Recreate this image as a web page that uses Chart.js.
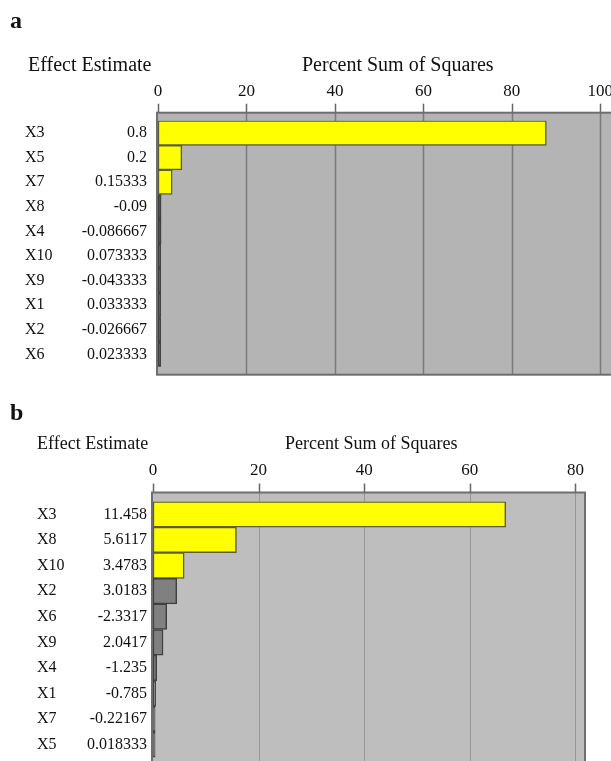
<!DOCTYPE html>
<html>
<head>
<meta charset="utf-8">
<script src="https://cdn.jsdelivr.net/npm/chart.js@4"></script>
<style>
  body { margin: 0; width: 611px; height: 761px; overflow: hidden; background: #fff; position: relative;
         font-family: "Liberation Serif", "Times New Roman", serif; color: #111; }
  canvas { position: absolute; left: 0; }
  .t { position: absolute; white-space: nowrap; line-height: 1; }
</style>
</head>
<body>
<canvas id="chartA" width="620" height="385" style="top:0"></canvas>
<canvas id="chartB" width="611" height="380" style="top:390px"></canvas>

<div class="t" style="left:10px;top:8px;font-size:24px;font-weight:bold">a</div>
<div class="t" style="left:28px;top:54px;font-size:20px">Effect Estimate</div>
<div class="t" style="left:302px;top:54px;font-size:20px">Percent Sum of Squares</div>

<div class="t" style="left:10px;top:400px;font-size:24px;font-weight:bold">b</div>
<div class="t" style="left:37px;top:434px;font-size:18px">Effect Estimate</div>
<div class="t" style="left:285px;top:434px;font-size:18px">Percent Sum of Squares</div>

<script>
// panel a
const factorsA = ["X3", "X5", "X7", "X8", "X4", "X10", "X9", "X1", "X2", "X6"];
const effectsA = ["0.8", "0.2", "0.15333", "-0.09", "-0.086667", "0.073333", "-0.043333", "0.033333", "-0.026667", "0.023333"];
const percentA = [87.8, 5.4, 3.2, 0.7, 0.7, 0.6, 0.6, 0.6, 0.6, 0.6];
const signifA = [true, true, true, false, false, false, false, false, false, false];

// panel b
const factorsB = ["X3", "X8", "X10", "X2", "X6", "X9", "X4", "X1", "X7", "X5"];
const effectsB = ["11.458", "5.6117", "3.4783", "3.0183", "-2.3317", "2.0417", "-1.235", "-0.785", "-0.22167", "0.018333"];
const percentB = [66.8, 15.8, 5.9, 4.5, 2.6, 1.9, 0.7, 0.5, 0.4, 0.4];
const signifB = [true, true, true, false, false, false, false, false, false, false];

Chart.defaults.font.family = "'Liberation Serif', 'Times New Roman', serif";
Chart.defaults.color = "#111";

// grey plot box, grid, tick marks and factor names
const panel = {
    id: "panel",
    beforeDatasetsDraw(chart, args, o) {
        const { ctx, chartArea: ca, scales: { x } } = chart;
        const top = ca.top - o.pad, bottom = ca.bottom + o.pad;
        ctx.save();
        ctx.fillStyle = o.bg;
        ctx.fillRect(ca.left, top, ca.right - ca.left, bottom - top);
        x.ticks.forEach(t => {
            const px = Math.round(x.getPixelForValue(t.value)) + 0.5;
            if (t.value > 0) {
                ctx.strokeStyle = o.grid;
                ctx.lineWidth = o.gridWidth;
                ctx.beginPath();
                ctx.moveTo(px, top);
                ctx.lineTo(px, bottom);
                ctx.stroke();
            }
            ctx.strokeStyle = "#666";
            ctx.lineWidth = 1.5;
            ctx.beginPath();
            ctx.moveTo(px, top - o.tickLen);
            ctx.lineTo(px, top);
            ctx.stroke();
        });
        ctx.restore();
    },
    afterDatasetsDraw(chart, args, o) {
        const { ctx, chartArea: ca, scales: { y } } = chart;
        const top = ca.top - o.pad, bottom = ca.bottom + o.pad;
        ctx.save();
        ctx.strokeStyle = "#6e6e6e";
        ctx.lineWidth = 2;
        ctx.strokeRect(ca.left - 1, top, ca.right - ca.left + 1, bottom - top);
        ctx.fillStyle = "#111";
        ctx.font = "16px 'Liberation Serif', serif";
        ctx.textBaseline = "middle";
        o.names.forEach((n, i) => ctx.fillText(n, o.nameX, y.getPixelForTick(i)));
        ctx.restore();
    }
};

function makeChart(id, cfg) {
    return new Chart(document.getElementById(id), {
        type: "bar",
        data: {
            labels: cfg.names,
            datasets: [{
                data: cfg.values,
                backgroundColor: cfg.signif.map(s => s ? "#ffff00" : cfg.minor),
                borderColor: cfg.signif.map(s => s ? "#5c5c3a" : "#404040"),
                borderWidth: 1.5,
                borderSkipped: false,
                barPercentage: 1,
                categoryPercentage: 1
            }]
        },
        options: {
            indexAxis: "y",
            responsive: false,
            animation: false,
            layout: { padding: cfg.padding },
            plugins: {
                legend: { display: false },
                tooltip: { enabled: false },
                panel: { bg: cfg.bg, grid: cfg.grid, gridWidth: cfg.gridWidth, pad: cfg.boxPad,
                         tickLen: 9, names: cfg.names, nameX: cfg.nameX }
            },
            scales: {
                x: {
                    position: "top",
                    min: 0,
                    max: cfg.max,
                    grid: { display: false, drawTicks: false },
                    border: { display: false },
                    ticks: { stepSize: 20, includeBounds: false, padding: cfg.xPad, maxRotation: 0,
                             font: { size: 17 }, color: "#111" },
                    afterFit: s => { s.height = cfg.top; s.paddingLeft = 0; s.paddingRight = 0; }
                },
                y: {
                    grid: { display: false, drawTicks: false },
                    border: { display: false },
                    ticks: { padding: cfg.yPad, font: { size: 16 }, color: "#111",
                             callback: (v, i) => cfg.effects[i] },
                    afterFit: s => { s.width = cfg.left; s.paddingTop = 0; s.paddingBottom = 0; }
                }
            }
        },
        plugins: [panel]
    });
}

makeChart("chartA", {
    names: factorsA, effects: effectsA, values: percentA, signif: signifA,
    minor: "#404040", bg: "#b4b4b4", grid: "#7a7a7a", gridWidth: 1.5,
    max: 104, top: 120.7, left: 158, boxPad: 8, xPad: 19, yPad: 11, nameX: 25,
    padding: { top: 0, left: 0, right: 2, bottom: 18.3 }
});

makeChart("chartB", {
    names: factorsB, effects: effectsB, values: percentB, signif: signifB,
    minor: "#808080", bg: "#bebebe", grid: "#979797", gridWidth: 1,
    max: 81.8, top: 111.5, left: 153, boxPad: 9, xPad: 21, yPad: 6, nameX: 37,
    padding: { top: 0, left: 0, right: 26, bottom: 12.5 }
});
</script>
</body>
</html>
